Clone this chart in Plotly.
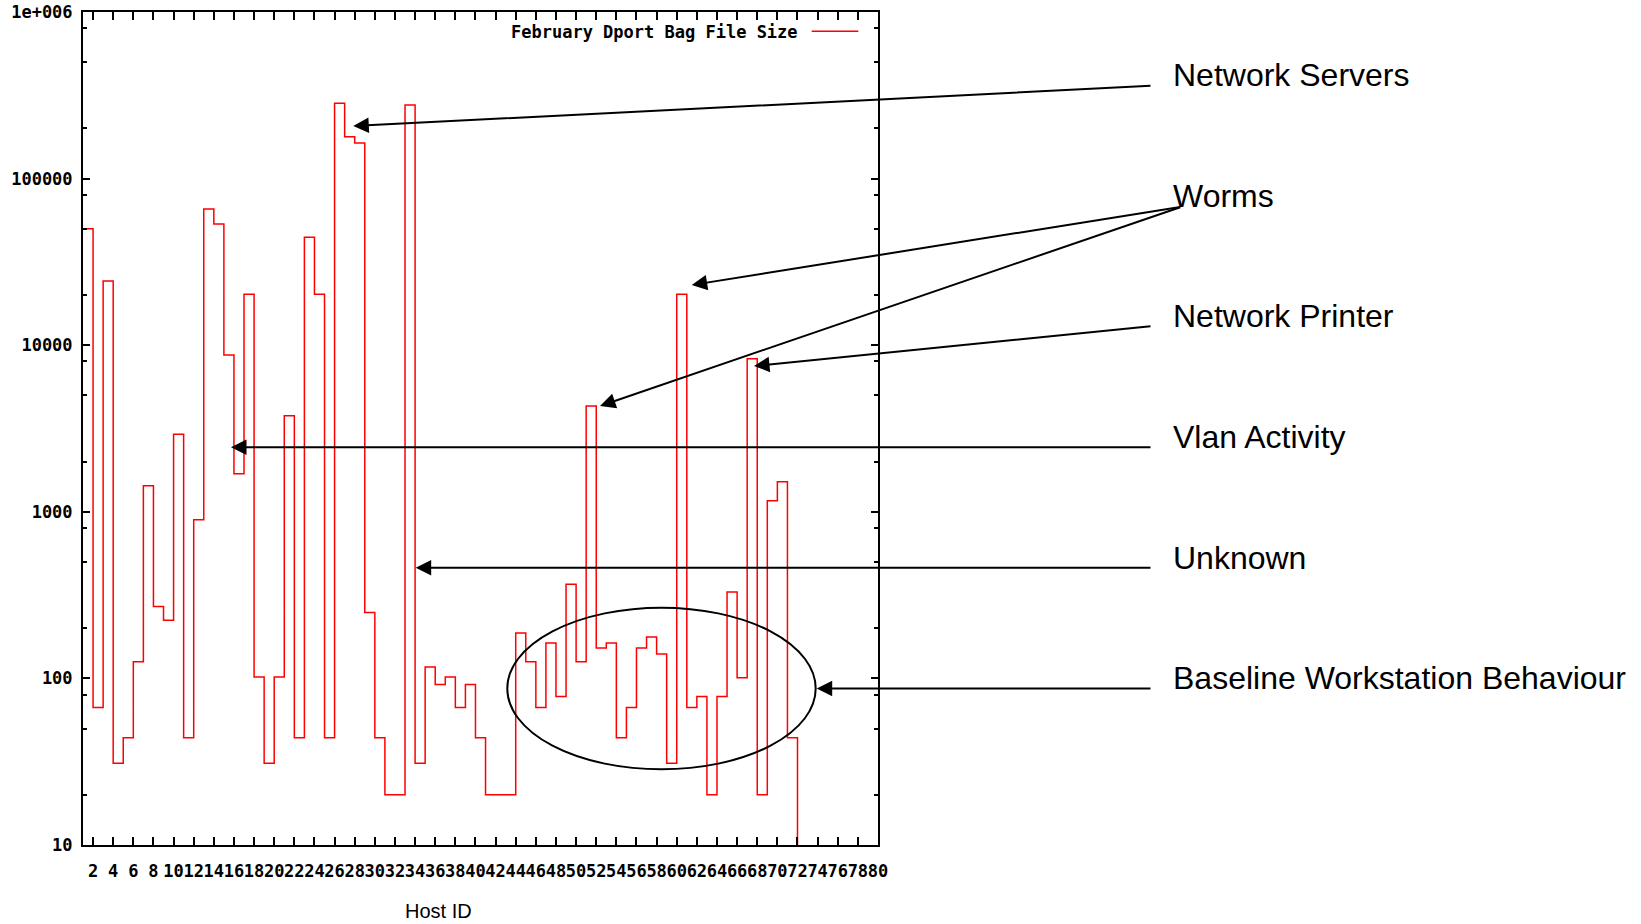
import plotly.graph_objects as go

# ---------------- data ----------------
host_id = list(range(1, 73))
bag_size = [50000, 67, 24300, 31, 44, 126, 1435, 270, 223, 2920,
            44, 897, 65700, 53400, 8730, 1690, 20200, 102, 31, 102,
            3775, 44, 44400, 20200, 44, 283000, 178600, 163600, 249, 44,
            20, 20, 276600, 31, 117, 92, 102, 67, 92, 44,
            20, 20, 20, 187, 126, 67, 163, 78, 367, 126,
            4320, 152, 163, 44, 67, 152, 177, 140, 31, 20200,
            67, 78, 20, 78, 330, 101, 8300, 20, 1166, 1516,
            44, 1]

x_tickvals = list(range(2, 81, 2))
x_ticktext = [str(v) for v in x_tickvals]
y_tickvals = [10, 100, 1000, 10000, 100000, 1000000]
y_ticktext = ["10", "100", "1000", "10000", "100000", "1e+006"]
y_minor = [m * 10 ** k for k in range(1, 6) for m in (2, 5, 8)]

series_name = "February Dport Bag File Size"
x_title = "Host ID"

# (label, [(tip_px_x, tip_px_y), ...], (tail_px_x, tail_px_y), text_center_y)
callouts = [
    ("Network Servers", [(353.3, 126)], (1152, 85.7), 74.7),
    ("Worms", [(691.7, 285), (600, 406)], (1181.7, 206.7), 196),
    ("Network Printer", [(754, 366)], (1152, 326), 316),
    ("Vlan Activity", [(231, 447.3)], (1152, 447.3), 436.7),
    ("Unknown", [(415.7, 567.7)], (1152, 567.7), 558),
    ("Baseline Workstation Behaviour", [(816.7, 688.5)], (1152, 688.5), 678),
]

# ---------------- layout geometry ----------------
W, H = 1641, 924
L, R, T, B = 83, 763, 12, 79
PW, PH = W - L - R, H - T - B


def px(xp):
    return (xp - L) / PW


def py(yp):
    return (H - B - yp) / PH


fig = go.Figure()
fig.add_trace(go.Scatter(
    x=host_id, y=bag_size, mode="lines", line_shape="hv",
    line=dict(color="#ff0000", width=1.5), name=series_name,
    showlegend=False,
))

tickfont = dict(family="DejaVu Sans Mono", size=17, color="black", weight="bold")

fig.update_xaxes(
    range=[1, 80], tickmode="array", tickvals=x_tickvals, ticktext=x_ticktext,
    tickangle=0, ticks="inside", ticklen=8, tickwidth=1.5, tickcolor="black",
    showline=True, linecolor="black", linewidth=2, mirror="ticks",
    showgrid=False, zeroline=False, tickfont=tickfont, ticklabelstandoff=10,
)
fig.update_yaxes(
    type="log", range=[1, 6], tickmode="array", tickvals=y_tickvals,
    ticktext=y_ticktext, ticks="inside", ticklen=7, tickwidth=1.5,
    tickcolor="black", showline=True, linecolor="black", linewidth=2,
    mirror="ticks", showgrid=False, zeroline=False, tickfont=tickfont,
    ticklabelstandoff=5,
    minor=dict(tickmode="array", tickvals=y_minor, ticks="inside", ticklen=4,
               tickwidth=1.5, tickcolor="black", showgrid=False),
)

annotations = []
shapes = []

# legend (gnuplot style: text then sample)
annotations.append(dict(
    xref="paper", yref="paper", x=px(800), y=py(32), xanchor="right",
    yanchor="middle", text=series_name, showarrow=False,
    font=dict(family="DejaVu Sans Mono", size=17, color="black", weight="bold"),
))
shapes.append(dict(type="line", xref="paper", yref="paper",
                   x0=px(811.7), x1=px(858.3), y0=py(31.3), y1=py(31.3),
                   line=dict(color="#ff0000", width=1.5)))

# axis title
annotations.append(dict(
    xref="paper", yref="paper", x=px(438.3), y=py(911), xanchor="center",
    yanchor="middle", text=x_title, showarrow=False,
    font=dict(family="Liberation Sans, Arial", size=20, color="black"),
))

# callouts
for label, tips, tail, ty in callouts:
    annotations.append(dict(
        xref="paper", yref="paper", x=px(1171), y=py(ty), xanchor="left",
        yanchor="middle", text=label, showarrow=False,
        font=dict(family="Liberation Sans, Arial", size=32, color="black"),
    ))
    for tx, tyy in tips:
        annotations.append(dict(
            xref="paper", yref="paper", x=px(tx), y=py(tyy), text="",
            showarrow=True, arrowhead=2, arrowsize=1.55, arrowwidth=2,
            arrowcolor="black", axref="pixel", ayref="pixel",
            ax=tail[0] - tx, ay=tail[1] - tyy, standoff=0,
        ))

# ellipse around baseline region
shapes.append(dict(type="circle", xref="paper", yref="paper",
                   x0=px(507.3), x1=px(815.7), y0=py(769.3), y1=py(607.7),
                   line=dict(color="black", width=2)))

fig.update_layout(
    width=W, height=H, margin=dict(l=L, r=R, t=T, b=B, autoexpand=False),
    paper_bgcolor="white", plot_bgcolor="white",
    annotations=annotations, shapes=shapes, showlegend=False,
)

fig.write_html(
    "out.html",
    config={"displayModeBar": False},
    post_script="document.body.style.margin='0px';document.body.style.overflow='hidden';",
)
